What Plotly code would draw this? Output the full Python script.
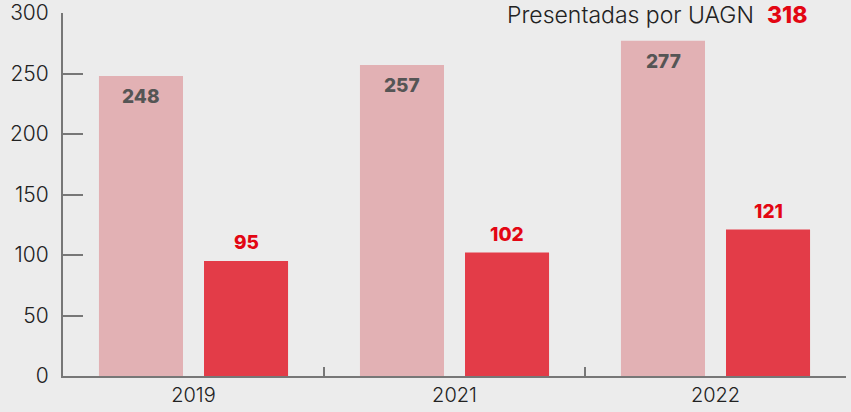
import plotly.graph_objects as go

years = ["2019", "2021", "2022"]
series_a = [248, 257, 277]
series_b = [95, 102, 121]
total_label = "Presentadas por UAGN"
total_value = 318

BG = "#ececec"
PINK = "#e2b1b4"
RED = "#e33c48"
RED_TXT = "#e30613"
GRAY_TXT = "#555555"
AX = "#777777"
FONT = "Inter"

fig = go.Figure()
fig.add_trace(go.Bar(x=years, y=series_a, marker=dict(color=PINK, line=dict(width=0)),
                     hoverinfo="skip", showlegend=False))
fig.add_trace(go.Bar(x=years, y=series_b, marker=dict(color=RED, line=dict(width=0)),
                     hoverinfo="skip", showlegend=False))

ann = []
for i, v in enumerate(series_a):
    ann.append(dict(x=i, y=v, xref="x", yref="y", text=f"{v}", showarrow=False,
                    xshift=-52.5, yanchor="top", yshift=-7,
                    font=dict(family=FONT, size=19, color=GRAY_TXT, weight=800)))
for i, v in enumerate(series_b):
    ann.append(dict(x=i, y=v, xref="x", yref="y", text=f"{v}", showarrow=False,
                    xshift=52.5, yanchor="bottom", yshift=5,
                    font=dict(family=FONT, size=19, color=RED_TXT, weight=800)))
ann.append(dict(x=0.952, y=1.0358, xref="paper", yref="paper", xanchor="right", yanchor="top",
                showarrow=False, borderpad=0,
                text=f"{total_label}  <span style='color:{RED_TXT};font-size:23px;font-weight:800'>{total_value}</span>",
                font=dict(family=FONT, size=23, color="#222222", weight=300)))

fig.update_layout(
    width=851, height=412,
    margin=dict(l=63, r=5, t=13, b=36),
    paper_bgcolor=BG, plot_bgcolor=BG,
    barmode="group", bargap=0.195, bargroupgap=0.2,
    annotations=ann,
    xaxis=dict(type="category", range=[-0.5, 2.5], autorange=False, showgrid=False,
               showline=True, linecolor=AX, linewidth=2,
               ticks="inside", tickson="boundaries", ticklen=9, tickcolor=AX, tickwidth=2,
               tickfont=dict(family=FONT, size=20, color="#222222", weight=300), zeroline=False,
               automargin=False, tickangle=0),
    yaxis=dict(range=[0, 300], autorange=False, tickvals=[0, 50, 100, 150, 200, 250, 300],
               showgrid=False, showline=True, linecolor=AX, linewidth=2, ticks="inside",
               ticklen=20, tickcolor=AX, tickwidth=2, ticklabelstandoff=8, zeroline=False,
               ticklabeloverflow="allow",
               tickfont=dict(family=FONT, size=21, color="#222222", weight=300), automargin=False),
)

fig.write_html("out.html", config={"displayModeBar": False},
               post_script="document.body.style.margin='0';document.body.style.background='#ececec';")
